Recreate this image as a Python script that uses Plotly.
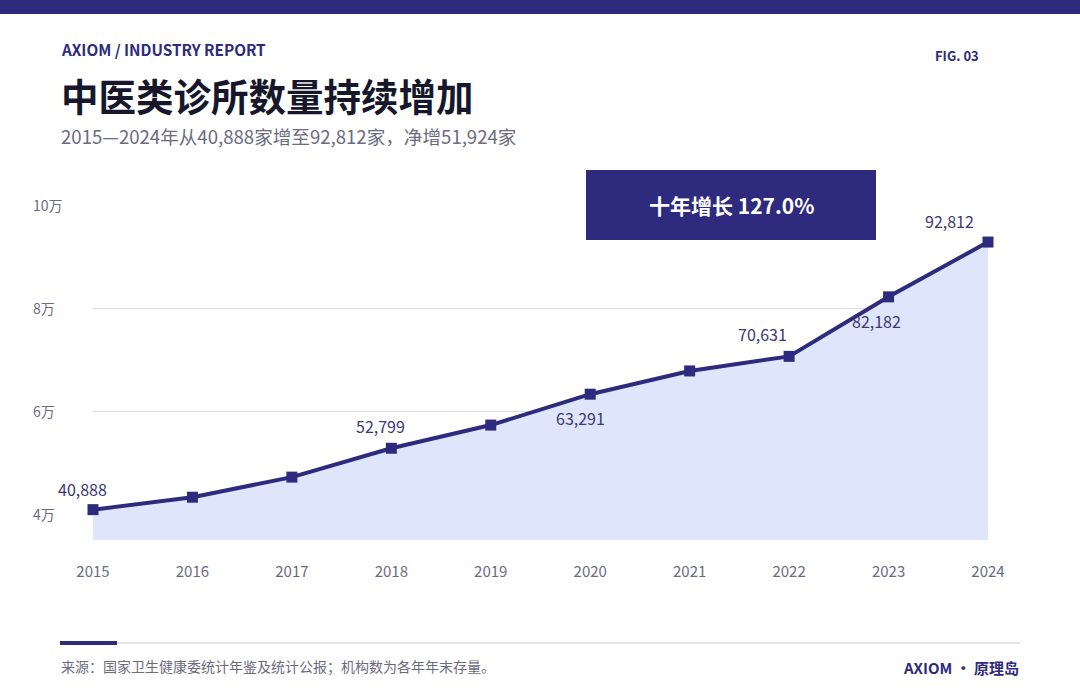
import plotly.graph_objects as go

# data
years = [2015, 2016, 2017, 2018, 2019, 2020, 2021, 2022, 2023, 2024]
clinics = [40888, 43300, 47200, 52799, 57300, 63291, 67800, 70631, 82182, 92812]
label_years = [2015, 2018, 2020, 2022, 2023, 2024]
y_ticks = [40000, 60000, 80000, 100000]
y_tick_text = ['4万', '6万', '8万', '10万']

NAVY = '#2e2a7e'
GRAY = '#6b6b80'
FONT = 'Noto Sans CJK SC'

W, H = 1080, 694
L, R, T, B = 93, 988, 205, 540  # plot area in pixels


def px(x):
    return (x - L) / (R - L)


def py(y):
    return (B - y) / (B - T)


def note(x, y, text, size, color, anchor='left'):
    fig.add_annotation(x=px(x), y=py(y), xref='paper', yref='paper',
                       xanchor=anchor, yanchor='middle', text=text, showarrow=False,
                       borderpad=0, font=dict(family=FONT, size=size, color=color))


fig = go.Figure()

fig.add_trace(go.Scatter(
    x=years, y=clinics, mode='lines+markers',
    line=dict(color=NAVY, width=4),
    marker=dict(symbol='square', size=11, color=NAVY),
    fill='tozeroy', fillcolor='#dfe5fb',
    cliponaxis=False, hoverinfo='x+y'))

# value labels
offsets = {2015: (-11, 21), 2018: (-11, 22), 2020: (-10, -24),
           2022: (-27, 22), 2023: (-12, -24), 2024: (-39, 21)}
for yr in label_years:
    v = clinics[years.index(yr)]
    dx, dy = offsets[yr]
    fig.add_annotation(x=yr, y=v, text=f'{v:,}', showarrow=False,
                       xshift=dx, yshift=dy, xanchor='center', yanchor='middle',
                       font=dict(family=FONT, size=16, color='#3a3774'))

# y tick labels, left aligned
for v, t in zip(y_ticks, y_tick_text):
    fig.add_annotation(x=px(31), xref='paper', y=v, yref='y', text=t,
                       showarrow=False, xanchor='left', yanchor='middle',
                       font=dict(family=FONT, size=14, color=GRAY))

# header / footer text
note(60, 49, '<b>AXIOM / INDUSTRY REPORT</b>', 15.3, NAVY)
note(980, 55, '<b>FIG. 03</b>', 13, NAVY, 'right')
note(60, 95, '<b>中医类诊所数量持续增加</b>', 37.5, '#16172b')
note(60, 135, '2015—2024年从40,888家增至92,812家，净增51,924家', 18.6, GRAY)
note(60, 666, '来源：国家卫生健康委统计年鉴及统计公报；机构数为各年年末存量。', 14, GRAY)
note(1020, 667, '<b>AXIOM · 原理岛</b>', 15, NAVY, 'right')

# callout box
fig.add_shape(type='rect', xref='paper', yref='paper',
              x0=px(586), x1=px(876), y0=py(240), y1=py(170),
              fillcolor=NAVY, line_width=0, layer='above')
note(731, 205, '<b>十年增长 127.0%</b>', 21, 'white', 'center')

# top bar and footer rule
fig.add_shape(type='rect', xref='paper', yref='paper',
              x0=px(0), x1=px(W), y0=py(14), y1=py(0),
              fillcolor=NAVY, line_width=0)
fig.add_shape(type='line', xref='paper', yref='paper',
              x0=px(60), x1=px(1020), y0=py(643), y1=py(643),
              line=dict(color='#e2e2ea', width=2))
fig.add_shape(type='line', xref='paper', yref='paper',
              x0=px(60), x1=px(117), y0=py(643), y1=py(643),
              line=dict(color=NAVY, width=4))

fig.update_layout(
    width=W, height=H,
    margin=dict(l=L, r=W - R, t=T, b=H - B),
    paper_bgcolor='white', plot_bgcolor='white',
    showlegend=False,
    font=dict(family=FONT, color=GRAY),
)
fig.update_xaxes(range=[2015, 2024], tickvals=years, showgrid=False,
                 zeroline=False, showline=False, ticks='', ticklabelstandoff=21,
                 tickfont=dict(family=FONT, size=15, color=GRAY))
fig.update_yaxes(range=[35000, 100000], tickvals=y_ticks, showticklabels=False,
                 gridcolor='#dcdce8', gridwidth=1, zeroline=False, showline=False)

fig.write_html('out.html', config={'displayModeBar': False},
               post_script="document.body.style.margin='0';")
